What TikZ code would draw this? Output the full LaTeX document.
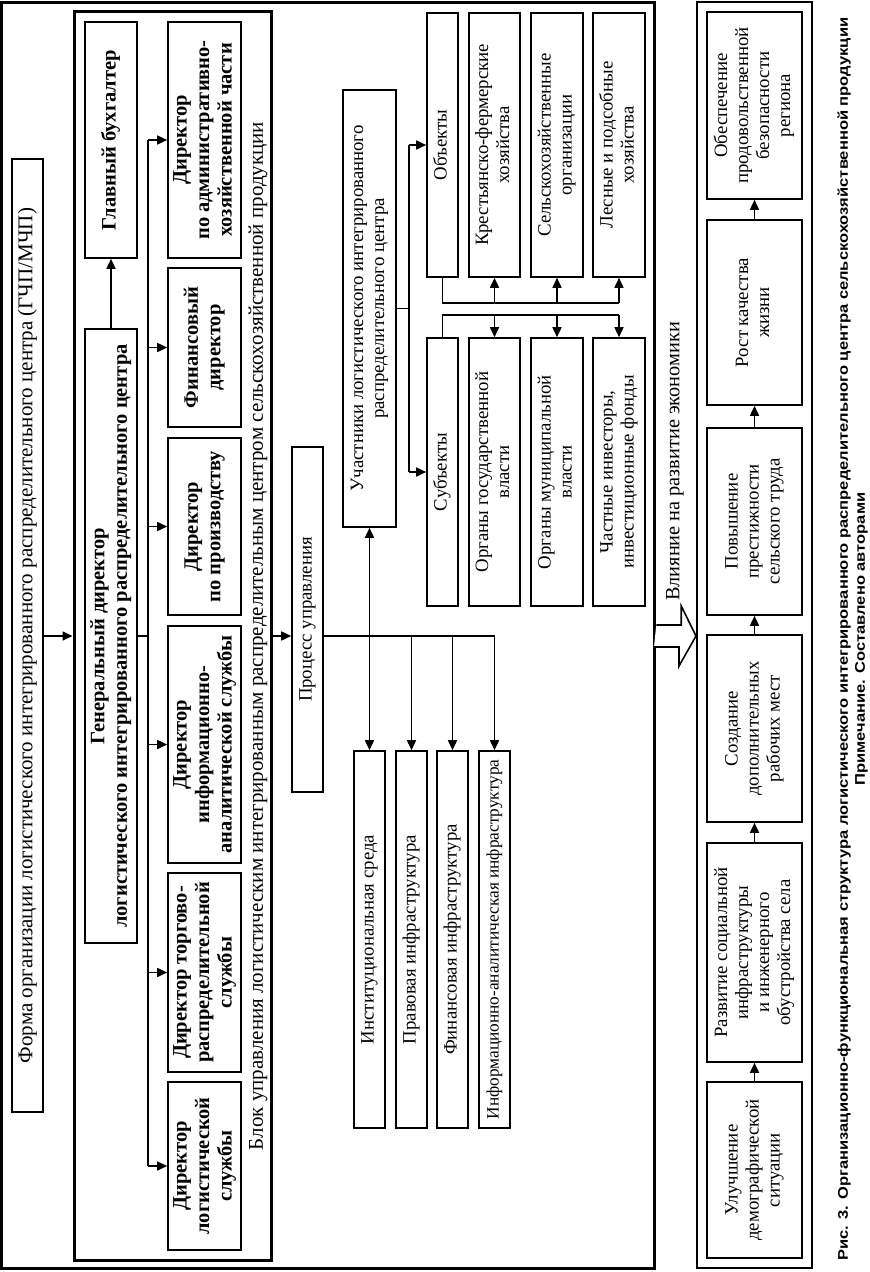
\documentclass[tikz,border=0pt]{standalone}
\usepackage{fontspec}
\setmainfont{Liberation Serif}
\newfontfamily\capfont[FakeStretch=1.18]{Liberation Sans}
\usetikzlibrary{arrows.meta}
\newcommand{\rtx}[1]{\rotatebox{90}{\begin{tabular}{@{}c@{}}#1\end{tabular}}}
\begin{document}
\begin{tikzpicture}[x=1pt,y=-1pt,
  box/.style={draw, line width=1.6pt, inner sep=0pt, font=\fontsize{18.8}{21}\selectfont},
  bbox/.style={box, font=\fontsize{20.5}{22.5}\selectfont\bfseries},
  bigbox/.style={box, font=\fontsize{21}{24}\selectfont},
  frame/.style={draw, line width=3pt, inner sep=0pt},
  rframe/.style={draw, line width=2pt, inner sep=0pt},
  arr/.style={line width=1.6pt, -{Triangle[length=10pt,width=9pt]}},
  ln/.style={line width=1.6pt},
  lbl/.style={inner sep=0pt}]
\useasboundingbox (0,0) rectangle (870,1272);
\fill[white] (0,0) rectangle (870,1272);
% frames
\node[frame, minimum width=653, minimum height=1266] (outer) at (328.25,635) {};
\node[frame, minimum width=197, minimum height=1249] (blok) at (172.5,635.5) {};
\node[rframe, minimum width=115, minimum height=1266] (right) at (754.5,635) {};
% left column
\node[bigbox, minimum width=31, minimum height=953] (forma) at (27.5,635.5)
  {\rtx{Форма организации логистического интегрированного распределительного центра (ГЧП/МЧП)}};
\node[bbox, minimum width=52, minimum height=236] (glbuh) at (111,140) {\rtx{Главный бухгалтер}};
\node[bbox, minimum width=52, minimum height=614] (gd) at (111,636)
  {\rtx{Генеральный директор\\логистического интегрированного распределительного центра}};
\node[bbox, minimum width=73, minimum height=236] (adm) at (204.5,140)
  {\rtx{Директор\\по административно-\\хозяйственной части}};
\node[bbox, minimum width=73, minimum height=159] (fin) at (204.5,347.5)
  {\rtx{Финансовый\\директор}};
\node[bbox, minimum width=73, minimum height=177] (prod) at (204.5,526.5)
  {\rtx{Директор\\по производству}};
\node[bbox, minimum width=73, minimum height=237] (inf) at (204.5,744.5)
  {\rtx{Директор\\информационно-\\аналитической службы}};
\node[bbox, minimum width=73, minimum height=199] (trade) at (204.5,972.5)
  {\rtx{Директор торгово-\\распределительной\\службы}};
\node[bbox, minimum width=73, minimum height=168] (logd) at (204.5,1166)
  {\rtx{Директор\\логистической\\службы}};
\node[lbl, font=\fontsize{21}{24}\selectfont] (bloklbl) at (258,636)
  {\rotatebox{90}{Блок управления логистическим интегрированным распределительным центром сельскохозяйственной продукции}};
% middle
\node[box, minimum width=31, minimum height=345] (proc) at (307.5,619.5) {\rtx{Процесс управления}};
\node[box, minimum width=53, minimum height=437] (uch) at (369.5,308.5)
  {\rtx{Участники логистического интегрированного\\распределительного центра}};
\node[box, minimum width=31, minimum height=377] (i1) at (369.5,939.5) {\rtx{Институциональная среда}};
\node[box, minimum width=31, minimum height=377] (i2) at (411.5,939.5) {\rtx{Правовая инфраструктура}};
\node[box, minimum width=31, minimum height=377] (i3) at (452.5,939.5) {\rtx{Финансовая инфраструктура}};
\node[box, minimum width=31, minimum height=377, font=\fontsize{17.3}{20}\selectfont] (i4) at (494.5,939.5) {\rtx{Информационно-аналитическая инфраструктура}};
\node[box, minimum width=31, minimum height=264] (obj) at (442.5,145) {\rtx{Объекты}};
\node[box, minimum width=51, minimum height=264] (kfh) at (494.5,145) {\rtx{Крестьянско-фермерские\\хозяйства}};
\node[box, minimum width=52, minimum height=264] (sxo) at (557,145) {\rtx{Сельскохозяйственные\\организации}};
\node[box, minimum width=52, minimum height=264] (les) at (619,145) {\rtx{Лесные и подсобные\\хозяйства}};
\node[box, minimum width=31, minimum height=268] (subj) at (442.5,472) {\rtx{Субъекты}};
\node[box, minimum width=51, minimum height=268] (org1) at (494.5,472) {\rtx{Органы государственной\\власти}};
\node[box, minimum width=52, minimum height=268] (org2) at (557,472) {\rtx{Органы муниципальной\\власти}};
\node[box, minimum width=52, minimum height=268] (chi) at (619,472) {\rtx{Частные инвесторы,\\инвестиционные фонды}};
% right column
\node[box, minimum width=95, minimum height=187] (obesp) at (754.5,105.5) {\rtx{Обеспечение\\продовольственной\\безопасности\\региона}};
\node[box, minimum width=95, minimum height=185] (rost) at (754.5,312.5) {\rtx{Рост качества\\жизни}};
\node[box, minimum width=95, minimum height=187] (pov) at (754.5,521.5) {\rtx{Повышение\\престижности\\сельского труда}};
\node[box, minimum width=95, minimum height=187] (sozd) at (754.5,728.5) {\rtx{Создание\\дополнительных\\рабочих мест}};
\node[box, minimum width=95, minimum height=219] (razv) at (754.5,952.5) {\rtx{Развитие социальной\\инфраструктуры\\и инженерного\\обустройства села}};
\node[box, minimum width=95, minimum height=176] (uluch) at (754.5,1170) {\rtx{Улучшение\\демографической\\ситуации}};
\node[lbl, anchor=south, font=\fontsize{20.3}{23}\selectfont] (vliy) at (675,601) {\rotatebox{90}{Влияние на развитие экономики}};
\node[inner sep=0pt, font=\fontsize{14}{17}\selectfont\capfont\bfseries] (cap) at (853,639)
  {\rtx{Рис. 3. Организационно-функциональная структура логистического интегрированного распределительного центра сельскохозяйственной продукции\\Примечание. Составлено авторами}};
% connectors left
\draw[arr] (forma.east |- gd.center) -- (blok.west |- gd.center);
\draw[arr] (gd.north) -- (glbuh.south);
\coordinate (busT) at (148,140);
\coordinate (busB) at (148,1166);
\draw[ln] (gd.east) -- (busT |- gd.east);
\draw[ln] (busT) -- (busB);
\foreach \d in {adm,fin,prod,inf,trade,logd} \draw[arr] (busT |- \d.west) -- (\d.west);
% middle connectors
\coordinate (hub) at (proc.east |- gd.center);
\draw[arr] (blok.east |- gd.center) -- (proc.west |- gd.center);
\draw[ln] (hub) -- (i4.north |- hub);
\draw[arr] (i1.north |- hub) -- (uch.south);
\foreach \i in {i1,i2,i3,i4} \draw[arr] (\i.north |- hub) -- (\i.north);
\draw[ln] (uch.east) -- ++(12,0) coordinate (uj);
\draw[ln] (uj |- obj.west) -- (uj |- subj.west);
\draw[arr] (uj |- obj.west) -- (obj.west);
\draw[arr] (uj |- subj.west) -- (subj.west);
\coordinate (objl) at (obj.south |- 0,303);
\draw[ln] (obj.south) -- (objl) -- (les.south |- objl);
\foreach \b in {kfh,sxo,les} \draw[arr] (\b.south |- objl) -- (\b.south);
\coordinate (subl) at (subj.north |- 0,315);
\draw[ln] (subj.north) -- (subl) -- (chi.north |- subl);
\foreach \b in {org1,org2,chi} \draw[arr] (\b.north |- subl) -- (\b.north);
% right connectors
\draw[arr] (uluch.north) -- (razv.south);
\draw[arr] (razv.north) -- (sozd.south);
\draw[arr] (sozd.north) -- (pov.south);
\draw[arr] (pov.north) -- (rost.south);
\draw[arr] (rost.north) -- (obesp.south);
% hollow arrow
\coordinate (ha) at (outer.east |- 0,636);
\draw[line width=1.6pt, fill=white] (ha) ++(0,-11) -- ++(25,0) -- ++(0,-19) -- (right.west |- ha) -- ++(-17,30) -- ++(0,-19) -- ++(-25,0);
\end{tikzpicture}
\end{document}
